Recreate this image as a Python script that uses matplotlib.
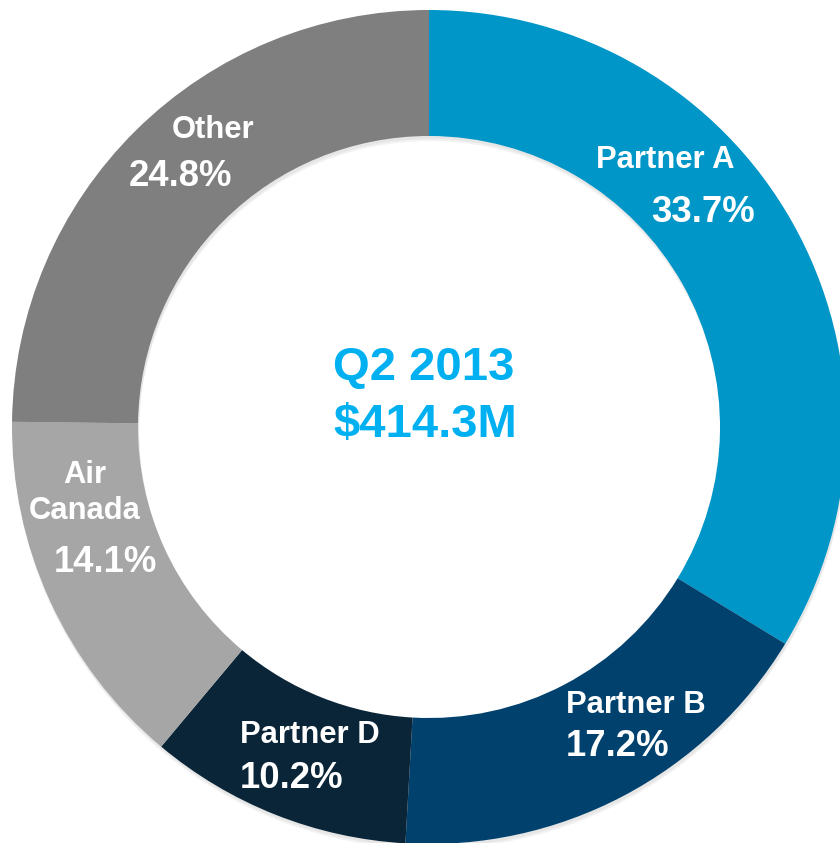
import matplotlib
matplotlib.use("Agg")
import matplotlib.pyplot as plt

categories = ["Partner A", "Partner B", "Partner D", "Air\nCanada", "Other"]
shares = [33.7, 17.2, 10.2, 14.1, 24.8]
colors = ["#0096C8", "#00416E", "#0B2538", "#A6A6A6", "#7F7F7F"]
center_title = "Q2 2013"
center_total = "$414.3M"

W, H = 840, 843
fig = plt.figure(figsize=(W / 100, H / 100), dpi=100)
ax = fig.add_axes([0, 0, 1, 1])

cx, cy = 429, -427
R, ring = 417, 126

# faint shadow cast downward
for off, col in [(5, "#F2F2F2"), (3, "#E6E6E6")]:
    ax.pie([sum(shares)], colors=[col], startangle=90, counterclock=False,
           center=(cx + 1, cy - off), radius=R,
           wedgeprops=dict(width=ring, linewidth=0))
ax.pie(shares, colors=colors, startangle=90, counterclock=False,
       center=(cx, cy), radius=R,
       wedgeprops=dict(width=ring, linewidth=0))

ax.set_xlim(0, W)
ax.set_ylim(-H, 0)
ax.set_aspect("equal")
ax.axis("off")

font = ["Liberation Sans", "DejaVu Sans"]
name_fs, pct_fs = 22.3, 26.3

# label positions (pixel coords of text anchor)
name_pos = [(665, 160, "center"), (636, 705, "center"), (240, 735, "left"),
            (85, 493, "center"), (213, 130, "center")]
pct_pos = [(703, 212, "center"), (618, 747, "center"), (240, 778, "left"),
           (105, 563, "center"), (180, 177, "center")]

for cat, v, (nx, ny, nha), (px, py, pha) in zip(categories, shares, name_pos, pct_pos):
    ax.text(nx, -ny, cat, ha=nha, va="center", color="white", fontsize=name_fs,
            fontweight="bold", family=font, linespacing=1.3)
    ax.text(px, -py, f"{v:.1f}%", ha=pha, va="center", color="white", fontsize=pct_fs,
            fontweight="bold", family=font)

ax.text(424, -368, center_title, ha="center", va="center", color="#00B0F0",
        fontsize=34, fontweight="bold", family=font)
ax.text(425, -425, center_total, ha="center", va="center", color="#00B0F0",
        fontsize=34, fontweight="bold", family=font)

fig.savefig("out.png", dpi=100)
